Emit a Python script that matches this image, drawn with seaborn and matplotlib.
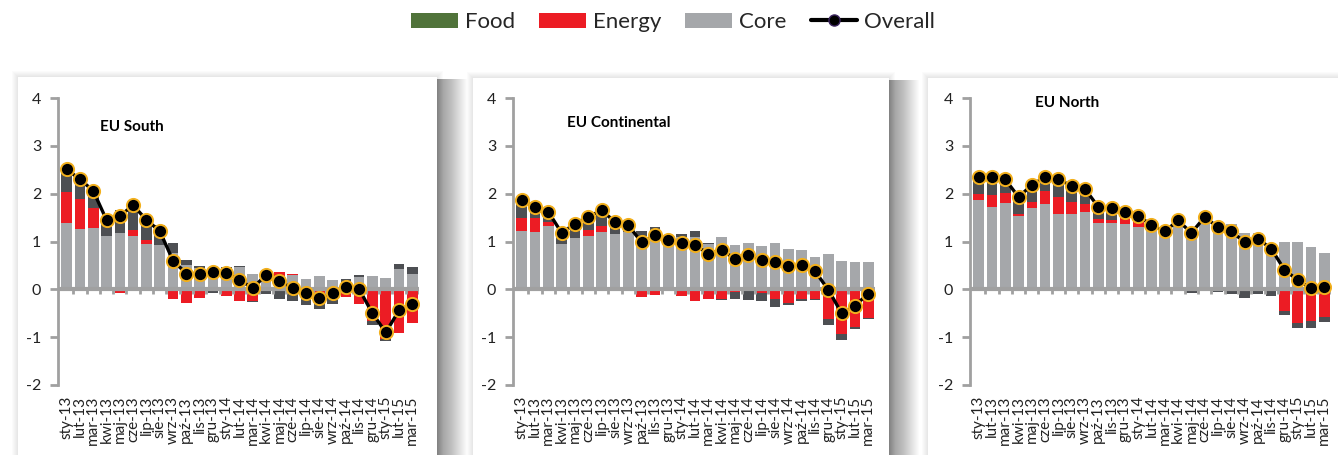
import numpy as np
import pandas as pd
import seaborn as sns
import matplotlib.pyplot as plt
from matplotlib.patches import Rectangle, Patch
from matplotlib.lines import Line2D

months = ["sty-13", "lut-13", "mar-13", "kwi-13", "maj-13", "cze-13", "lip-13", "sie-13", "wrz-13",
          "paź-13", "lis-13", "gru-13", "sty-14", "lut-14", "mar-14", "kwi-14", "maj-14", "cze-14",
          "lip-14", "sie-14", "wrz-14", "paź-14", "lis-14", "gru-14", "sty-15", "lut-15", "mar-15"]

# EU South
south_core = [1.39, 1.26, 1.28, 1.11, 1.17, 1.11, 0.95, 0.93, 0.77, 0.51, 0.44, 0.44, 0.44, 0.46,
              0.33, 0.41, 0.28, 0.29, 0.22, 0.27, 0.19, 0.16, 0.25, 0.27, 0.24, 0.42, 0.33]
south_energy = [0.64, 0.62, 0.41, -0.02, -0.08, 0.12, 0.08, -0.03, -0.21, -0.28, -0.19, -0.04, -0.13, -0.25,
                -0.24, -0.03, 0.08, 0.04, 0.0, -0.08, -0.05, -0.17, -0.31, -0.66, -1.04, -0.92, -0.70]
south_food = [0.48, 0.42, 0.37, 0.36, 0.49, 0.53, 0.50, 0.41, 0.19, 0.11, 0.05, -0.04, 0.02, 0.03,
              -0.03, -0.07, -0.20, -0.25, -0.33, -0.33, -0.26, 0.05, 0.05, -0.09, -0.05, 0.10, 0.13]
south_overall = [2.51, 2.30, 2.06, 1.45, 1.53, 1.76, 1.45, 1.22, 0.60, 0.33, 0.33, 0.37, 0.35, 0.20,
                 0.02, 0.31, 0.17, 0.02, -0.08, -0.18, -0.08, 0.04, 0.0, -0.50, -0.90, -0.44, -0.31]

# EU Continental
cont_core = [1.22, 1.19, 1.33, 0.94, 1.08, 1.11, 1.19, 1.16, 1.19, 1.11, 1.21, 1.02, 1.10, 1.10,
             0.95, 1.10, 0.93, 0.96, 0.91, 0.96, 0.85, 0.82, 0.68, 0.74, 0.60, 0.57, 0.57]
cont_energy = [0.28, 0.31, 0.08, -0.02, 0.0, 0.14, 0.13, -0.02, -0.02, -0.15, -0.12, 0.02, -0.14, -0.25,
               -0.20, -0.20, -0.05, -0.03, -0.07, -0.21, -0.28, -0.20, -0.21, -0.62, -0.93, -0.78, -0.59]
cont_food = [0.35, 0.27, 0.21, 0.31, 0.38, 0.32, 0.38, 0.34, 0.17, 0.10, 0.09, 0.0, 0.06, 0.12,
             0.01, -0.03, -0.15, -0.20, -0.18, -0.15, -0.05, -0.04, -0.02, -0.12, -0.13, -0.04, -0.02]
cont_overall = [1.86, 1.72, 1.62, 1.18, 1.37, 1.52, 1.65, 1.41, 1.34, 0.98, 1.13, 1.04, 0.97, 0.93,
                0.74, 0.83, 0.63, 0.72, 0.62, 0.57, 0.49, 0.50, 0.38, -0.01, -0.50, -0.34, -0.09]

# EU North
north_core = [1.86, 1.72, 1.81, 1.53, 1.69, 1.78, 1.58, 1.58, 1.62, 1.39, 1.39, 1.36, 1.31, 1.32,
              1.25, 1.44, 1.27, 1.48, 1.33, 1.36, 1.17, 1.17, 0.89, 1.00, 1.00, 0.89, 0.75]
north_energy = [0.14, 0.25, 0.21, 0.05, 0.14, 0.28, 0.34, 0.25, 0.16, 0.09, 0.05, 0.17, 0.15, 0.0,
                -0.04, -0.01, 0.0, 0.06, 0.0, -0.02, -0.04, 0.0, -0.04, -0.45, -0.70, -0.66, -0.58]
north_food = [0.32, 0.32, 0.25, 0.40, 0.32, 0.28, 0.31, 0.28, 0.31, 0.26, 0.25, 0.11, 0.10, 0.03,
              0.0, 0.0, -0.07, -0.04, -0.06, -0.08, -0.14, -0.10, -0.09, -0.09, -0.10, -0.14, -0.10]
north_overall = [2.35, 2.35, 2.30, 1.93, 2.18, 2.35, 2.30, 2.16, 2.10, 1.72, 1.69, 1.62, 1.54, 1.34,
                 1.21, 1.44, 1.18, 1.51, 1.30, 1.21, 0.99, 1.06, 0.85, 0.41, 0.19, 0.02, 0.05]

regions = [
    ("EU South", south_core, south_energy, south_food, south_overall, (0.116, 0.90)),
    ("EU Continental", cont_core, cont_energy, cont_food, cont_overall, (0.148, 0.913)),
    ("EU North", north_core, north_energy, north_food, north_overall, (0.18, 0.984)),
]

CORE = "#a5a7aa"
ENERGY = "#ec1c24"
FOOD = "#4d4f53"
FOOD_LEGEND = "#50733a"
AXIS = "#a0a0a0"

sns.set_style("white")
plt.rcParams["font.family"] = ["Lato", "DejaVu Sans"]

W, H = 1338, 455
fig = plt.figure(figsize=(W / 100, H / 100), dpi=100)
fig.patch.set_facecolor("white")


def frect(l, r, t, **kw):
    # rectangle in pixel coords running from top t down past the figure bottom
    fig.patches.append(Rectangle((l / W, -0.05), (r - l) / W, (H - t) / H + 0.05,
                                 transform=fig.transFigure, edgecolor="none", **kw))


# panel boxes with soft shadow (pixel coords: left, right, top)
boxes = [(18, 437, 77), (473, 889, 78), (928, 1360, 78)]
for x0, x1, top in boxes:
    for k in range(1, 7):
        frect(x0 - k, x1 + k, top - k, facecolor="black", alpha=0.015, zorder=0)
    for k in range(1, 31):
        frect(x1, x1 + k, top + 2, facecolor="black", alpha=0.016, zorder=0)
    frect(x0, x1, top, facecolor="white", zorder=1)

axes_px = [(58, 419), (513, 875), (970, 1331)]
y_top, y_bot = 98, 385
x = np.arange(len(months))

for (name, core, energy, food, overall, tpos), (px0, px1) in zip(regions, axes_px):
    ax = fig.add_axes([px0 / W, (H - y_bot) / H, (px1 - px0) / W, (y_bot - y_top) / H])
    ax.set_facecolor("none")
    ax.set_zorder(2)

    pos = np.zeros(len(months))
    neg = np.zeros(len(months))
    for vals, col in [(core, CORE), (energy, ENERGY), (food, FOOD)]:
        v = np.array(vals)
        bottom = np.where(v >= 0, pos, neg)
        ax.bar(x, v, bottom=bottom, width=0.8, color=col, edgecolor="none", zorder=2)
        pos = pos + np.where(v > 0, v, 0)
        neg = neg + np.where(v < 0, v, 0)

    ax.axhline(0, color=AXIS, lw=3, zorder=3)
    ax.vlines(x + 0.5, -0.1, 0, color=AXIS, lw=2, zorder=3)

    df = pd.DataFrame({"x": x, "overall": overall})
    sns.lineplot(data=df, x="x", y="overall", ax=ax, color="black", lw=2.4,
                 marker="o", markersize=9.5, markerfacecolor="black",
                 markeredgecolor="#f2b01e", markeredgewidth=1.4, zorder=5)

    ax.set_xlim(-0.65, 26.5)
    ax.set_ylim(-2, 4)
    ax.set_yticks([-2, -1, 0, 1, 2, 3, 4])
    ax.set_yticklabels(["-2", "-1", "0", "1", "2", "3", "4"])
    ax.set_xticks(x)
    ax.set_xticklabels(months, rotation=90, fontsize=11, color="#222222")
    ax.tick_params(axis="x", length=0, pad=8)
    ax.tick_params(axis="y", length=6, width=2, color=AXIS, labelsize=11.5,
                   labelcolor="#222222", pad=6, direction="out", left=True)
    ax.set_xlabel("")
    ax.set_ylabel("")
    for s in ["top", "right", "bottom"]:
        ax.spines[s].set_visible(False)
    ax.spines["left"].set_color(AXIS)
    ax.spines["left"].set_linewidth(2)

    ax.text(tpos[0], tpos[1], name, transform=ax.transAxes, fontsize=11,
            fontweight="bold", va="center", ha="left", color="black")

handles = [
    Patch(facecolor=FOOD_LEGEND, edgecolor="none"),
    Patch(facecolor=ENERGY, edgecolor="none"),
    Patch(facecolor=CORE, edgecolor="none"),
    Line2D([0], [0], color="black", lw=3, marker="o", markersize=8,
           markerfacecolor="black", markeredgecolor="#3d2660"),
]
fig.legend(handles, ["Food", "Energy", "Core", "Overall"], loc="center",
           bbox_to_anchor=(0.503, 1 - 22 / H), ncol=4, frameon=False, fontsize=16,
           handlelength=2.1, handleheight=0.65, handletextpad=0.3, columnspacing=1.1)

fig.savefig("out.png", dpi=100, facecolor="white")
